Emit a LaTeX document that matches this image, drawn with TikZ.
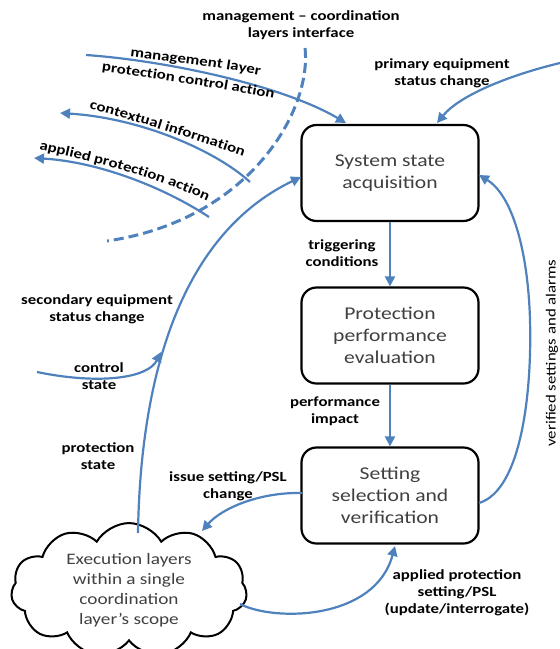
\documentclass[tikz,border=0pt]{standalone}
\usepackage{fontspec}
\setmainfont{Carlito}[FakeStretch=1.2]
\usetikzlibrary{arrows.meta,shapes.symbols,decorations.text}
\definecolor{lnblue}{RGB}{79,129,189}
\definecolor{boxtext}{RGB}{64,64,64}
\begin{document}
\begin{tikzpicture}[x=1pt,y=-1pt,
  procbox/.style={draw=black,line width=2.2pt,rounded corners=15pt,fill=white,
    minimum width=177pt,minimum height=96pt,align=center,text=boxtext,
    font=\fontsize{18}{22}\selectfont},
  cloudbox/.style={draw=black,line width=2pt,shape=cloud,cloud puffs=11,cloud puff arc=120,
    aspect=2,minimum width=236pt,minimum height=114pt,align=center,text=boxtext,
    font=\fontsize{16}{20}\selectfont,inner sep=0pt},
  lbl/.style={align=center,font=\bfseries\fontsize{14}{17}\selectfont,inner sep=0pt},
  curvlbl/.style={decorate,decoration={text along path,text align=center,
    text={|\bfseries\fontsize{14}{17}\selectfont|#1}}},
  flow/.style={draw=lnblue,line width=2.2pt,-{Triangle[length=10pt,width=10pt]}},
  iface/.style={draw=lnblue,line width=3pt,dash pattern=on 10pt off 5pt}]
\useasboundingbox (0,0) rectangle (560,649);

% boxes
\node[procbox] (ssa) at (390,173) {System state\\acquisition};
\node[procbox] (ppe) at (390,335.5) {Protection\\performance\\evaluation};
\node[procbox] (ssv) at (390,495.5) {Setting\\selection and\\verification};
\node[cloudbox] (cloud) at (129,590) {Execution layers\\within a single\\coordination\\layer’s scope};

% free ends
\coordinate (mgA) at (86,55);
\coordinate (mgB) at (346,123);
\coordinate (ctA) at (250,182);
\coordinate (ctB) at (60,113);
\coordinate (apA) at (209,217);
\coordinate (apB) at (34,158);
\coordinate (ifA) at (305,48);
\coordinate (ifB) at (107,241);
\coordinate (prA) at (560,63);
\coordinate (prB) at (437,123);
\coordinate (csA) at (37,372);
\coordinate (csB) at (161,352);
\coordinate (clTop) at (138,533);
\coordinate (ssaW) at (301,177);
\coordinate (ssaE) at (479,175);
\coordinate (ssvE) at (479,503);
\coordinate (ssvW) at (302,493);
\coordinate (isB) at (202,531);
\coordinate (clR) at (240,604);
\coordinate (ssvS) at (395,546);

% vertical flow
\draw[flow] (ssa.south) -- (ppe.north);
\draw[flow] (ppe.south) -- (ssv.north);

% interface dashed line
\draw[iface] (ifA) .. controls (312,110) and (250,220) .. (ifB);

% left arrows
\draw[flow] (mgA) .. controls (160,60) and (280,84) .. (mgB);
\draw[flow] (ctA) .. controls (215,150) and (140,118) .. (ctB);
\draw[flow] (apA) .. controls (165,188) and (100,162) .. (apB);

% primary equipment
\draw[flow] (prA) .. controls (510,75) and (460,95) .. (prB);

% protection state main curve
\draw[flow] (clTop) .. controls (140,400) and (170,240) .. (ssaW);
% control state
\draw[flow] (csA) .. controls (100,385) and (148,378) .. (csB);

% verified settings
\draw[flow] (ssvE) .. controls (522,490) and (532,390) .. (530,320)
  .. controls (528,250) and (512,195) .. (ssaE);

% issue setting
\draw[flow] (ssvW) .. controls (260,492) and (222,508) .. (isB);
% applied protection setting
\draw[flow] (clR) .. controls (275,622) and (375,620) .. (ssvS);

% curved labels
\path[curvlbl={management layer}] (110,54) .. controls (170,61) and (225,68) .. (280,79);
\path[curvlbl={protection control action}] (80,68) .. controls (140,76) and (235,90) .. (295,103);
\path[curvlbl={contextual information}] (70,103) .. controls (130,119) and (200,141) .. (262,163);
\path[curvlbl={applied protection action}] (20,146) .. controls (85,159) and (155,175) .. (225,209);

% labels
\node[lbl] (lIf) at (301,25) {management – coordination\\layers interface};
\node[lbl] (lPr) at (442,73) {primary equipment\\status change};
\node[lbl] (lTr) at (342,253) {triggering\\conditions};
\node[lbl] (lPi) at (335,411) {performance\\impact};
\node[align=center,font=\fontsize{14}{17}\selectfont,rotate=90,inner sep=0pt] (lVs) at (552,353) {verified settings and alarms};
\node[lbl] (lSe) at (97,309) {secondary equipment\\status change};
\node[lbl] (lCs) at (99,376) {control\\state};
\node[lbl] (lPs) at (98,456) {protection\\state};
\node[lbl] (lIs) at (228,486) {issue setting/PSL\\change};
\node[lbl] (lAs) at (457,593) {applied protection\\setting/PSL\\(update/interrogate)};
\end{tikzpicture}
\end{document}
